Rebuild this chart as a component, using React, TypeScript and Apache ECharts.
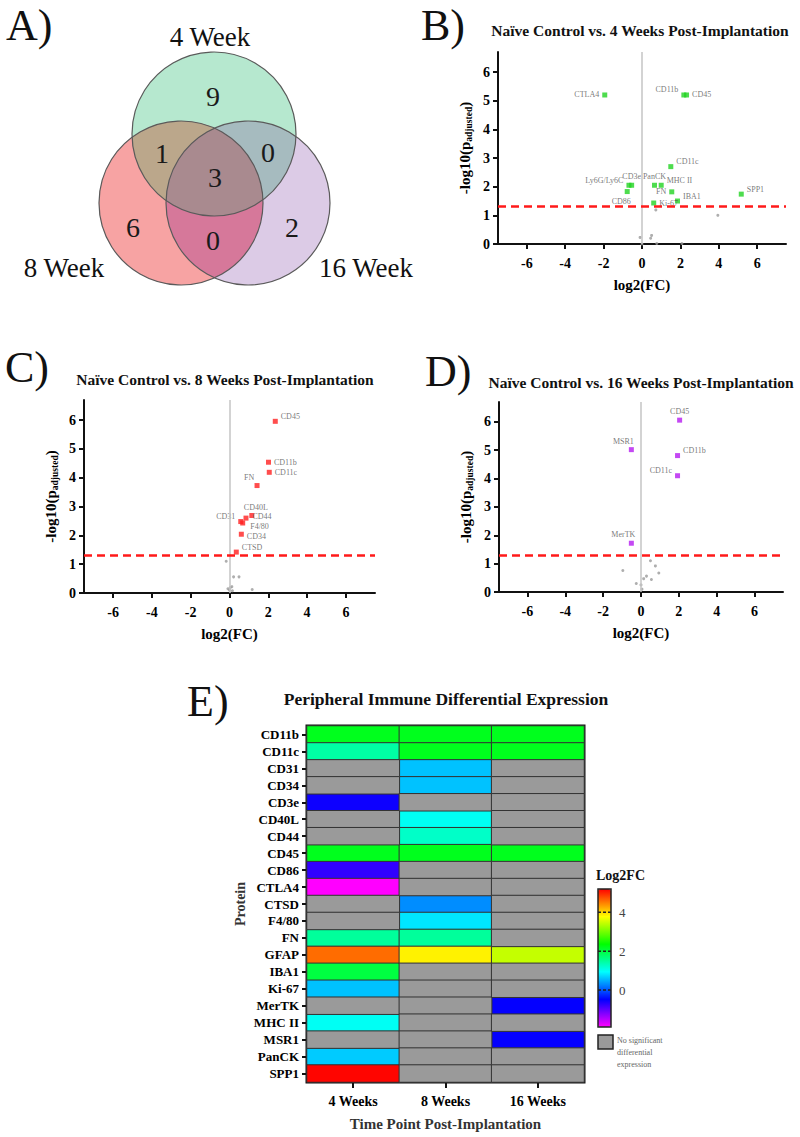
import React, { useEffect, useRef } from 'react';
import * as echarts from 'echarts';

const SERIF = "'Liberation Serif', 'Times New Roman', serif";

// ---------- A) Venn ----------
const vennSetNames = ['4 Week', '8 Week', '16 Week'];
const vennRegions = ['4 only', '4∩8', '4∩16', 'all', '8 only', '8∩16', '16 only'];
const vennCounts = [9, 1, 0, 3, 6, 0, 2];

// ---------- B) 4 weeks volcano ----------
const b4Names = ['CTLA4', 'CD11b', 'CD45', 'CD11c', 'Ly6G/Ly6C', 'CD3e', 'CD86', 'PanCK', 'MHC II', 'FN', 'IBA1', 'Ki-67', 'SPP1'];
const b4FC = [-1.94, 2.18, 2.32, 1.5, -0.68, -0.54, -0.77, 0.65, 1.0, 1.55, 1.85, 0.61, 5.17];
const b4P = [5.2, 5.2, 5.2, 2.7, 2.05, 2.05, 1.83, 2.05, 2.05, 1.82, 1.5, 1.43, 1.74];
const b4NsFC = [0.72, 3.95, -0.1, 0.5, 0.45, 0.77, 2.08, 0.0];
const b4NsP = [1.19, 1.0, 0.23, 0.3, 0.2, 0.02, 0.02, 0.0];

// ---------- C) 8 weeks volcano ----------
const c8Names = ['CD45', 'CD11b', 'CD11c', 'FN', 'CD40L', 'CD44', 'CD31', 'F4/80', 'CD34', 'CTSD'];
const c8FC = [2.36, 2.01, 2.05, 1.42, 1.15, 0.85, 0.58, 0.68, 0.61, 0.35];
const c8P = [5.96, 4.54, 4.19, 3.73, 2.69, 2.6, 2.48, 2.43, 2.04, 1.42];
const c8NsFC = [-0.17, 0.21, 0.49, 0.04, -0.08, 0.12, 0.0, 0.15, 1.17];
const c8NsP = [1.1, 0.56, 0.56, 0.19, 0.15, 0.22, 0.1, 0.08, 0.12];

// ---------- D) 16 weeks volcano ----------
const d16Names = ['CD45', 'MSR1', 'CD11b', 'CD11c', 'MerTK'];
const d16FC = [2.04, -0.51, 1.93, 1.93, -0.51];
const d16P = [6.06, 5.02, 4.81, 4.1, 1.72];
const d16NsFC = [-0.96, 0.5, 0.76, 0.94, 0.29, 0.55, 0.14, -0.25, 0.0, 0.05];
const d16NsP = [0.76, 1.1, 0.92, 0.67, 0.56, 0.44, 0.47, 0.3, 0.25, 0.1];

const xTicks = [-6, -4, -2, 0, 2, 4, 6];
const yTicks = [0, 1, 2, 3, 4, 5, 6];
const pThreshold = 1.3;

// ---------- E) heatmap ----------
const proteins = ['CD11b', 'CD11c', 'CD31', 'CD34', 'CD3e', 'CD40L', 'CD44', 'CD45', 'CD86', 'CTLA4', 'CTSD', 'F4/80', 'FN', 'GFAP', 'IBA1', 'Ki-67', 'MerTK', 'MHC II', 'MSR1', 'PanCK', 'SPP1'];
const timePoints = ['4 Weeks', '8 Weeks', '16 Weeks'];
const fc4w = [2.2, 1.45, null, null, -0.55, null, null, 2.2, -0.75, -1.94, null, null, 1.5, 4.6, 2.0, 0.6, null, 1.0, null, 0.65, 5.17];
const fc8w = [2.2, 2.2, 0.6, 0.6, null, 1.0, 1.25, 2.2, null, null, 0.3, 0.8, 1.5, 3.85, null, null, null, null, null, null, null];
const fc16w = [2.2, 2.2, null, null, null, null, null, 2.2, null, null, null, null, null, 3.45, null, null, -0.5, null, -0.5, null, null];
const legendTicks = [4, 2, 0];
const fcMin = -1.9;
const fcMax = 5.2;

const rainbow = ['#ff00ff', '#8000ff', '#0000ff', '#0080ff', '#00ffff', '#00ff80', '#00ff00', '#80ff00', '#ffff00', '#ff8000', '#ff0000'];

// label placement styles
const placeStyles: Record<string, any> = {
  left: { position: 'left', distance: 3 },
  right: { position: 'right', distance: 3 },
  top: { position: 'top', distance: 2 },
  ul: { position: 'left', distance: 3, offset: [0, -5] },
  ur: { position: 'right', distance: 3, offset: [0, -5] },
  r2: { position: 'right', distance: 3, offset: [0, 2] },
  rUp: { position: 'right', distance: 4, offset: [0, -2] },
  dr: { position: 'right', distance: 3, offset: [2, 3] },
  bl: { position: 'bottom', distance: 3, offset: [-6, 0] },
  tl: { position: 'top', distance: 2, offset: [-8, 0] },
  tr: { position: 'top', distance: 2, offset: [4, 0] },
};
const b4Place = ['left', 'ul', 'right', 'ur', 'ul', 'top', 'bl', 'top', 'ur', 'left', 'ur', 'right', 'ur'];
const c8Place = ['ur', 'right', 'right', 'tl', 'tr', 'rUp', 'ul', 'dr', 'r2', 'ur'];
const d16Place = ['top', 'tl', 'ur', 'ul', 'tl'];

const grids = [
  { left: 498, top: 52, width: 288, height: 192 },
  { left: 84, top: 400, width: 291, height: 193 },
  { left: 499, top: 402, width: 284, height: 190 },
  { left: 307, top: 726, width: 277, height: 356 },
];

const axisFont = { fontFamily: SERIF, fontWeight: 'bold', color: '#000' };
const tickRich = { t: { fontFamily: SERIF, fontWeight: 'bold', fontSize: 14, color: '#000' } };
const tickFmt = (v: number) => '{t|' + String(Math.round(v * 100) / 100) + '}';

function volcanoX(gi: number) {
  return {
    gridIndex: gi, type: 'value', min: -7.5, max: 7.5,
    axisLine: { show: true, onZero: false, lineStyle: { color: '#111', width: 2 } },
    axisTick: { show: true, length: 5, lineStyle: { color: '#111', width: 2 }, customValues: xTicks },
    axisLabel: { fontFamily: SERIF, fontWeight: 'bold', color: '#000', fontSize: 14, margin: 12, customValues: xTicks, formatter: tickFmt, rich: tickRich },
    splitLine: { show: false },
    name: 'log2(FC)', nameLocation: 'middle', nameGap: 33,
    nameTextStyle: { ...axisFont, fontSize: 15 },
  };
}
function volcanoY(gi: number) {
  return {
    gridIndex: gi, type: 'value', min: 0, max: 6.7,
    axisLine: { show: true, onZero: false, lineStyle: { color: '#111', width: 2 } },
    axisTick: { show: true, length: 5, lineStyle: { color: '#111', width: 2 }, customValues: yTicks },
    axisLabel: { fontFamily: SERIF, fontWeight: 'bold', color: '#000', fontSize: 14, margin: 8, customValues: yTicks, formatter: tickFmt, rich: tickRich },
    splitLine: { show: false },
    name: '{m|-log10(p}{s|adjusted}{m|)}', nameLocation: 'middle', nameGap: 24,
    nameTextStyle: {
      rich: {
        m: { ...axisFont, fontSize: 15, lineHeight: 19, verticalAlign: 'middle' },
        s: { ...axisFont, fontSize: 9.5, lineHeight: 19, verticalAlign: 'bottom', padding: [6, 0, 0, 0] },
      },
    },
  };
}

function volcanoSeries(gi: number, names: string[], fc: number[], p: number[], place: string[], nsFC: number[], nsP: number[], color: string) {
  const ns = {
    type: 'scatter', xAxisIndex: gi, yAxisIndex: gi,
    data: nsFC.map((x, i) => [x, nsP[i]]),
    symbol: 'circle', symbolSize: 3,
    itemStyle: { color: '#9a9a9a' },
    silent: true,
    markLine: {
      silent: true, symbol: ['none', 'none'], label: { show: false },
      data: [
        { xAxis: 0, lineStyle: { color: '#c4c4c4', width: 1.5, type: 'solid' } },
        { yAxis: pThreshold, lineStyle: { color: '#ff1a1a', width: 2.5, type: [8, 5] } },
      ],
    },
  };
  const sig = {
    type: 'scatter', xAxisIndex: gi, yAxisIndex: gi,
    data: names.map((n, i) => ({ name: n, value: [fc[i], p[i]], label: placeStyles[place[i]] })),
    symbol: 'rect', symbolSize: 5,
    itemStyle: { color },
    label: { show: true, formatter: '{b}', fontFamily: SERIF, fontSize: 8, color: '#555' },
    silent: true,
  };
  return [ns, sig];
}

// Venn geometry / colours
const vennR = 82;
const vennCenters = [[214, 134], [181, 203], [248, 203]];
const vennFillsPure = ['#b6e8cf', '#f7a3a3', '#dccbe6'];
const vennFill48 = '#bba78b';
const vennFill416 = '#a6bbbf';
const vennFill816 = '#d6789a';
const vennFillAll = '#a98a8f';
const vennTextPos = [[213, 96], [162, 153], [268, 152], [215, 177], [133, 227], [213, 240], [292, 227]];

export default function App() {
  const ref = useRef<HTMLDivElement>(null);
  useEffect(() => {
    if (!ref.current) return;
    const chart = echarts.init(ref.current, null, { renderer: 'svg' });

    const heatSig: any[] = [];
    const heatNs: any[] = [];
    [fc4w, fc8w, fc16w].forEach((col, t) => {
      col.forEach((v, pi) => {
        if (v === null) heatNs.push([t, pi, 0]);
        else heatSig.push([t, pi, v]);
      });
    });

    const circ = (i: number) => ({ cx: vennCenters[i][0], cy: vennCenters[i][1], r: vennR });

    const vennSeries = {
      type: 'custom', coordinateSystem: 'none', silent: true, z: 1,
      data: [0],
      renderItem: () => ({
        type: 'group',
        children: [
          { type: 'circle', shape: circ(0), style: { fill: vennFillsPure[0] } },
          { type: 'circle', shape: circ(1), style: { fill: vennFillsPure[1] } },
          { type: 'circle', shape: circ(2), style: { fill: vennFillsPure[2] } },
          { type: 'circle', shape: circ(1), style: { fill: vennFill48 }, clipPath: { type: 'circle', shape: circ(0) } },
          { type: 'circle', shape: circ(2), style: { fill: vennFill416 }, clipPath: { type: 'circle', shape: circ(0) } },
          { type: 'circle', shape: circ(2), style: { fill: vennFill816 }, clipPath: { type: 'circle', shape: circ(1) } },
          {
            type: 'group', clipPath: { type: 'circle', shape: circ(0) },
            children: [
              { type: 'circle', shape: circ(2), style: { fill: vennFillAll }, clipPath: { type: 'circle', shape: circ(1) } },
            ],
          },
          { type: 'circle', shape: circ(0), style: { fill: 'none', stroke: '#5a5a5a', lineWidth: 1.2 } },
          { type: 'circle', shape: circ(1), style: { fill: 'none', stroke: '#5a5a5a', lineWidth: 1.2 } },
          { type: 'circle', shape: circ(2), style: { fill: 'none', stroke: '#5a5a5a', lineWidth: 1.2 } },
        ],
      }),
    };

    const series: any[] = [
      ...volcanoSeries(0, b4Names, b4FC, b4P, b4Place, b4NsFC, b4NsP, '#22d322'),
      ...volcanoSeries(1, c8Names, c8FC, c8P, c8Place, c8NsFC, c8NsP, '#ff2020'),
      ...volcanoSeries(2, d16Names, d16FC, d16P, d16Place, d16NsFC, d16NsP, '#b51cf0'),
      {
        type: 'heatmap', xAxisIndex: 3, yAxisIndex: 3, data: heatSig,
        itemStyle: { borderColor: '#333', borderWidth: 1 }, silent: true,
      },
      {
        type: 'heatmap', xAxisIndex: 3, yAxisIndex: 3, data: heatNs,
        itemStyle: { borderColor: '#333', borderWidth: 1 }, silent: true,
      },
      vennSeries,
    ];

    // colorbar geometry
    const cbX = 598, cbY = 889, cbW = 13, cbH = 138;
    const valToY = (v: number) => cbY + ((fcMax - v) / (fcMax - fcMin)) * cbH;

    const txt = (text: string, x: number, y: number, size: number, opts: any = {}) => ({
      type: 'text', x, y, z: 50,
      style: {
        text, fontFamily: SERIF, fontSize: size, fill: opts.fill || '#111',
        fontWeight: opts.bold ? 'bold' : 'normal',
        align: opts.align || 'center', verticalAlign: 'middle',
      },
    });

    const graphics: any[] = [
      ...vennCounts.map((n, i) => txt(String(n), vennTextPos[i][0], vennTextPos[i][1], 28, { fill: '#1a1a1a' })),
      txt(vennSetNames[0], 210, 37, 27),
      txt(vennSetNames[1], 64, 268, 27),
      txt(vennSetNames[2], 319, 268, 27, { align: 'left' }),
      // panel letters
      txt('A)', 6, 25, 44, { align: 'left' }),
      txt('B)', 421, 25, 44, { align: 'left' }),
      txt('C)', 5, 367, 44, { align: 'left' }),
      txt('D)', 425, 371, 44, { align: 'left' }),
      txt('E)', 187, 701, 44, { align: 'left' }),
      // titles
      txt('Naïve Control vs. 4 Weeks Post-Implantation', 640, 30, 15.5, { bold: true }),
      txt('Naïve Control vs. 8 Weeks Post-Implantation', 225, 379, 15.5, { bold: true }),
      txt('Naïve Control vs. 16 Weeks Post-Implantation', 641, 382, 15.5, { bold: true }),
      txt('Peripheral Immune Differential Expression', 446, 699, 17.5, { bold: true }),
      // legend
      txt('Log2FC', 596, 875, 14, { bold: true, align: 'left' }),
      {
        type: 'rect', z: 60, shape: { x: cbX, y: cbY, width: cbW, height: cbH },
        style: { fill: 'none', stroke: '#222', lineWidth: 1.5 },
      },
      ...legendTicks.map((v) => ({
        type: 'line', z: 60, shape: { x1: cbX, y1: valToY(v), x2: cbX + cbW, y2: valToY(v) },
        style: { stroke: '#222', lineWidth: 1.5, lineDash: [3, 2] },
      })),
      ...legendTicks.map((v) => txt(String(v), cbX + cbW + 8, valToY(v), 13, { align: 'left', fill: '#444' })),
      {
        type: 'rect', z: 60, shape: { x: 598, y: 1035, width: 15, height: 14 },
        style: { fill: '#9a9a9a', stroke: '#222', lineWidth: 1.5 },
      },
      txt('No significant', 617, 1040, 8, { align: 'left', fill: '#666' }),
      txt('differential', 617, 1052, 8, { align: 'left', fill: '#666' }),
      txt('expression', 617, 1064, 8, { align: 'left', fill: '#666' }),
    ];

    const option: any = {
      animation: false,
      backgroundColor: '#fff',
      grid: [
        ...grids.slice(0, 3).map((g) => ({ ...g, containLabel: false })),
        { ...grids[3], containLabel: false, show: true, borderColor: '#111', borderWidth: 3, backgroundColor: 'transparent' },
      ],
      xAxis: [
        volcanoX(0), volcanoX(1), volcanoX(2),
        {
          gridIndex: 3, type: 'category', data: timePoints,
          axisLine: { show: true, lineStyle: { color: '#111', width: 2 } },
          axisTick: { show: true, alignWithLabel: true, length: 6, lineStyle: { color: '#111', width: 2 } },
          axisLabel: { ...axisFont, fontSize: 14, margin: 12, interval: 0 },
          splitLine: { show: false },
          name: 'Time Point Post-Implantation', nameLocation: 'middle', nameGap: 34,
          nameTextStyle: { ...axisFont, fontSize: 15, color: '#333' },
        },
      ],
      yAxis: [
        volcanoY(0), volcanoY(1), volcanoY(2),
        {
          gridIndex: 3, type: 'category', data: proteins, inverse: true,
          axisLine: { show: true, lineStyle: { color: '#111', width: 2 } },
          axisTick: { show: true, alignWithLabel: true, interval: 0, length: 5, lineStyle: { color: '#111', width: 2 } },
          axisLabel: { ...axisFont, fontSize: 13, margin: 8, interval: 0 },
          splitLine: { show: false },
          name: 'Protein', nameLocation: 'middle', nameGap: 60,
          nameTextStyle: { ...axisFont, fontSize: 14, color: '#333' },
        },
      ],
      visualMap: [
        {
          type: 'continuous', min: fcMin, max: fcMax, seriesIndex: [6],
          inRange: { color: rainbow }, calculable: false, show: true,
          left: cbX, top: cbY, itemWidth: cbW, itemHeight: cbH, padding: 0,
          orient: 'vertical', text: null, showLabel: false,
        },
        {
          type: 'continuous', min: 0, max: 1, seriesIndex: [7], show: false,
          inRange: { color: ['#9a9a9a', '#9a9a9a'] },
        },
      ],
      series,
      graphic: graphics,
    };
    chart.setOption(option);
    return () => chart.dispose();
  }, []);

  return <div ref={ref} style={{ position: 'absolute', left: 0, top: 0, width: 800, height: 1137 }} />;
}
